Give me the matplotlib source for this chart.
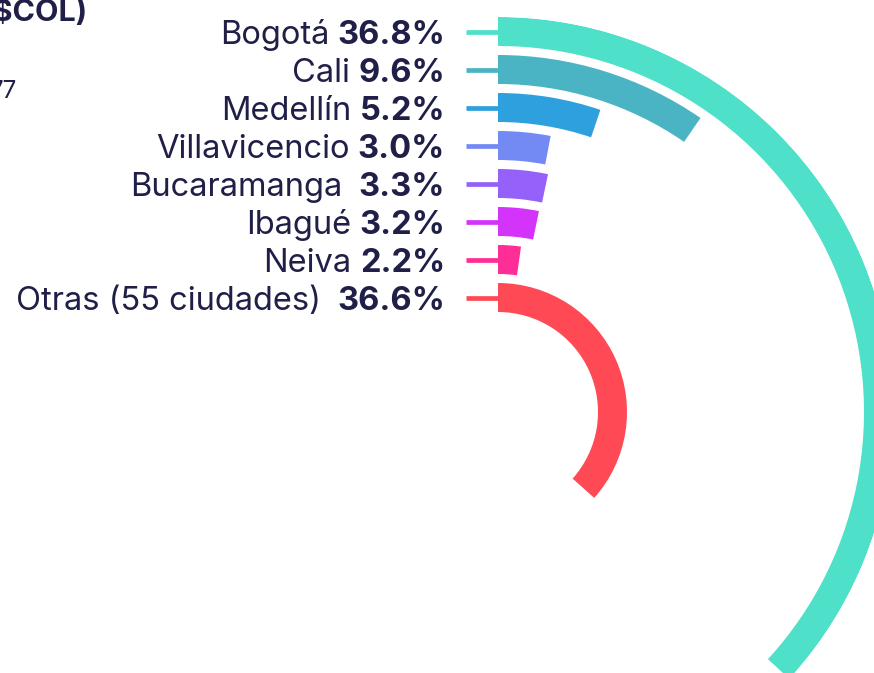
import matplotlib
matplotlib.use("Agg")
import matplotlib.pyplot as plt
import numpy as np

# ---- data ----
cities = ["Bogotá", "Cali", "Medellín", "Villavicencio", "Bucaramanga ", "Ibagué", "Neiva", "Otras (55 ciudades) "]
shares = [36.8, 9.6, 5.2, 3.0, 3.3, 3.2, 2.2, 36.6]
pct_labels = ["36.8%", "9.6%", "5.2%", "3.0%", "3.3%", "3.2%", "2.2%", "36.6%"]
colors = ["#4EE0C8", "#4AB4C4", "#2EA0DE", "#738AF5", "#9462FA", "#D434FA", "#FF2D96", "#FF4A55"]

W, H = 874, 673
DPI = 100
TXT = "#1F1F48"
FONT = ["Inter", "DejaVu Sans"]

fig = plt.figure(figsize=(W / DPI, H / DPI), dpi=DPI)

# polar axes, units of radius = pixels
cx, cy = 498, 412
R = 395
ax = fig.add_axes([(cx - R) / W, (H - cy - R) / H, 2 * R / W, 2 * R / H], projection="polar")
ax.set_theta_zero_location("N")
ax.set_theta_direction(-1)
ax.set_ylim(0, R)
ax.axis("off")

band = 29
pitch = 38
for i, (s, c) in enumerate(zip(shares, colors)):
    r_out = R - i * pitch
    theta = np.deg2rad(s / 100 * 360)
    ax.bar(0, band, width=theta, bottom=r_out - band, align="edge", color=c, edgecolor="none")

# overlay in pixel coordinates
ov = fig.add_axes([0, 0, 1, 1])
ov.set_xlim(0, W)
ov.set_ylim(H, 0)
ov.axis("off")
ov.patch.set_alpha(0)

fig.canvas.draw()
renderer = fig.canvas.get_renderer()
inv = ov.transData.inverted()

fs = 23.5
x_right = 445
for i, (name, pct, c) in enumerate(zip(cities, pct_labels, colors)):
    r_out = R - i * pitch
    ymid = cy - (r_out - band / 2)
    ov.plot([466, cx], [ymid, ymid], color=c, lw=3.4, solid_capstyle="butt")
    yb = ymid + 12.5
    t = ov.text(x_right, yb, pct, ha="right", va="baseline", fontsize=fs,
                fontweight="bold", color=TXT, family=FONT)
    bb = t.get_window_extent(renderer)
    x_left = inv.transform((bb.x0, 0))[0]
    extra = 8 * (len(name) - len(name.rstrip()))
    ov.text(x_left - 8 - extra, yb, name.rstrip(), ha="right", va="baseline",
            fontsize=fs, color=TXT, family=FONT)

# partially visible texts at the left edge (cut off in the original too)
ov.text(88, 21, "($COL)", ha="right", va="baseline", fontsize=22, fontweight="bold",
        color=TXT, family=FONT)
ov.text(17, 98, "77", ha="right", va="baseline", fontsize=17.5, color=TXT, family=FONT)

fig.savefig("out.png", dpi=DPI)
